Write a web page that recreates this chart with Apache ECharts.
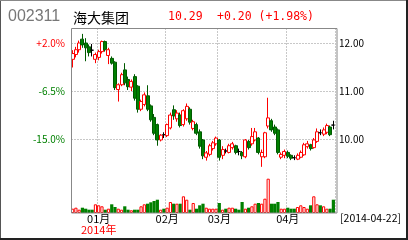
<!DOCTYPE html>
<html>
<head>
<meta charset="utf-8">
<script src="https://cdn.jsdelivr.net/npm/echarts@6/dist/echarts.min.js"></script>
<style>html,body{margin:0;padding:0;background:#fff}#c{width:408px;height:240px}</style>
</head>
<body>
<div id="c"></div>
<script>
const stockCode = '002311';
const stockName = '海大集团';
const lastPrice = '10.29';
const changeText = '+0.20 (+1.98%)';
const dateLabel = '[2014-04-22]';

const categories = [
 '2013-12-20','2013-12-23','2013-12-24','2013-12-25','2013-12-26','2013-12-27','2013-12-30','2013-12-31',
 '2014-01-02','2014-01-03','2014-01-06','2014-01-07','2014-01-08','2014-01-09','2014-01-10','2014-01-13','2014-01-14','2014-01-15','2014-01-16','2014-01-17','2014-01-20','2014-01-21','2014-01-22','2014-01-23','2014-01-24','2014-01-27','2014-01-28','2014-01-29','2014-01-30',
 '2014-02-07','2014-02-10','2014-02-11','2014-02-12','2014-02-13','2014-02-14','2014-02-17','2014-02-18','2014-02-19','2014-02-20','2014-02-21','2014-02-24','2014-02-25','2014-02-26','2014-02-27','2014-02-28',
 '2014-03-03','2014-03-04','2014-03-05','2014-03-06','2014-03-07','2014-03-10','2014-03-11','2014-03-12','2014-03-13','2014-03-14','2014-03-17','2014-03-18','2014-03-19','2014-03-20','2014-03-21','2014-03-24','2014-03-25','2014-03-26','2014-03-27','2014-03-28','2014-03-31',
 '2014-04-01','2014-04-02','2014-04-03','2014-04-04','2014-04-08','2014-04-09','2014-04-10','2014-04-11','2014-04-14','2014-04-15','2014-04-16','2014-04-17','2014-04-18','2014-04-21','2014-04-22'
];

const opens = [11.66,11.76,11.86,12.08,12.00,11.92,11.85,11.66,11.70,11.82,12.03,11.74,11.68,11.60,11.03,11.13,11.44,11.24,11.08,11.30,
 11.10,10.62,10.72,10.90,10.69,10.45,10.30,9.98,10.09,10.07,10.23,10.61,10.42,10.50,10.30,10.42,10.62,10.22,10.30,10.15,
 9.98,9.62,9.68,9.80,9.90,9.98,9.66,9.75,9.72,9.82,9.86,9.74,9.72,9.63,9.95,9.90,9.98,10.02,9.63,9.63,
 10.27,10.38,10.25,10.19,9.62,9.66,9.72,9.66,9.61,9.58,9.62,9.67,9.84,9.88,9.82,9.95,10.13,10.10,10.14,10.25,10.29];
const closes = [11.78,11.86,12.00,11.96,11.90,11.80,11.85,11.76,11.82,12.03,11.86,11.86,11.58,11.07,11.13,11.34,11.17,11.09,11.20,10.85,
 10.62,10.78,10.92,10.62,10.40,10.12,9.98,10.08,10.09,10.30,10.50,10.48,10.54,10.28,10.59,10.68,10.35,10.36,10.12,9.85,
 9.65,9.71,9.86,9.92,10.02,9.62,9.78,9.75,9.86,9.90,9.72,9.74,9.65,9.98,9.82,10.05,10.15,9.72,9.72,10.13,
 10.44,10.19,10.12,9.72,9.68,9.74,9.64,9.60,9.61,9.66,9.72,9.88,9.90,9.80,9.98,10.15,10.13,10.19,10.28,10.09,10.29];
const lows = [11.49,11.70,11.80,11.90,11.62,11.72,11.72,11.58,11.64,11.78,11.82,11.56,11.55,11.02,10.78,11.10,11.12,11.02,11.00,10.80,
 10.55,10.58,10.68,10.58,10.36,10.08,9.86,9.95,10.02,10.04,10.20,10.40,10.36,10.24,10.26,10.38,10.30,10.18,10.08,9.80,
 9.58,9.55,9.64,9.76,9.86,9.55,9.58,9.70,9.70,9.78,9.68,9.66,9.58,9.60,9.78,9.86,9.95,9.68,9.42,9.60,
 10.22,10.15,10.08,9.68,9.58,9.60,9.60,9.56,9.56,9.56,9.60,9.65,9.80,9.76,9.80,9.92,10.08,10.06,10.10,10.06,10.20];
const highs = [11.85,11.92,12.05,12.19,12.10,11.97,11.98,11.80,11.86,12.05,12.05,11.90,11.72,11.62,11.16,11.38,11.58,11.30,11.24,11.35,
 11.12,10.82,10.97,11.12,10.72,10.52,10.32,10.10,10.14,10.32,10.55,10.70,10.60,10.55,10.62,10.74,10.66,10.40,10.34,10.20,
 10.00,9.75,9.90,9.96,10.05,10.00,9.85,9.80,9.90,9.94,9.88,9.80,9.75,10.00,9.98,10.23,10.23,10.04,9.78,10.15,
 10.86,10.42,10.30,10.22,9.72,9.78,9.76,9.68,9.66,9.70,9.76,9.92,9.96,9.90,10.02,10.22,10.20,10.24,10.32,10.28,10.38];
const volumes = [4.3,5.3,3.3,5.3,4.3,3.3,3.3,8.7,7.7,6.7,3.3,4.3,8.7,6.0,4.3,3.3,6.7,3.3,2.7,3.3,
 3.3,6.7,8.7,9.3,10.7,12.0,13.3,3.3,4.3,5.3,11.0,9.3,9.3,9.3,16.7,13.3,3.3,10.0,4.3,7.7,
 9.3,5.3,4.3,4.3,4.3,10.0,3.3,4.3,5.3,5.3,4.3,3.3,11.0,4.3,5.3,6.7,9.3,10.0,9.3,14.3,
 34.3,9.3,9.3,11.0,4.3,4.3,5.3,4.3,4.3,6.0,7.7,6.0,4.3,7.7,16.7,8.7,7.7,6.7,4.3,4.3,13.3];

const priceTicks = [10, 11, 12];
const priceTickLabels = ['10.00', '11.00', '12.00'];
const pctTickLabels = ['-15.0%', '-6.5%', '+2.0%'];

const RED = '#ff0000', GREEN = '#008000', GREEN_DARK = '#005a00';
const CJK = '"Noto Sans CJK SC", sans-serif';

const candleData = categories.map((d, i) => [opens[i], closes[i], lows[i], highs[i]]);
const volData = categories.map((d, i) => {
  const up = closes[i] > opens[i];
  return { value: volumes[i], itemStyle: up ? { color: '#ffffff', borderColor: RED, borderWidth: 1 } : { color: GREEN, borderColor: GREEN, borderWidth: 0 } };
});
const monthStarts = [];
categories.forEach((d, i) => { if (i > 0 && d.slice(0, 7) !== categories[i - 1].slice(0, 7)) monthStarts.push(i); });

const chart = echarts.init(document.getElementById('c'), null, { renderer: 'canvas' });
const L = 71, R = 73;
chart.setOption({
  animation: false,
  grid: [
    { left: L, right: R, top: 28, bottom: 27 },
    { left: L, right: R, top: 43, height: 96 },
    { left: L, right: R, bottom: 27, height: 40 }
  ],
  xAxis: [
    { type: 'category', gridIndex: 0, data: categories, boundaryGap: true,
      axisLine: { show: false }, axisTick: { show: false },
      splitLine: { show: true, interval: (i) => monthStarts.indexOf(i) >= 0, lineStyle: { color: '#c8c8c8', type: [2, 1] } },
      axisLabel: { interval: (i) => monthStarts.indexOf(i) >= 0, margin: 0, fontSize: 11, color: '#000', fontFamily: CJK, lineHeight: 11,
        formatter: (v) => {
          const m = v.slice(5, 7) + '月';
          const idx = categories.indexOf(v);
          if (idx > 0 && v.slice(0, 4) !== categories[idx - 1].slice(0, 4)) return m + '\n{y|' + v.slice(0, 4) + '年}';
          return m;
        },
        rich: { y: { color: RED, fontSize: 11, fontFamily: CJK, lineHeight: 11 } } } },
    { type: 'category', gridIndex: 1, data: categories, boundaryGap: true, show: false },
    { type: 'category', gridIndex: 2, data: categories, boundaryGap: true, show: false }
  ],
  yAxis: [
    { type: 'value', gridIndex: 0, show: false, min: 0, max: 1, splitLine: { show: false } },
    { type: 'value', gridIndex: 1, position: 'right', min: 10, max: 12, interval: 1,
      axisLine: { show: false }, axisTick: { show: false },
      splitLine: { show: true, lineStyle: { color: '#c8c8c8', type: [2, 1] } },
      axisLabel: { margin: 4, fontSize: 10, color: '#000', fontFamily: CJK,
        formatter: (v) => { const k = priceTicks.indexOf(v); return k >= 0 ? priceTickLabels[k] : ''; } } },
    { type: 'value', gridIndex: 1, position: 'left', min: 10, max: 12, interval: 1,
      axisLine: { show: false }, axisTick: { show: false }, splitLine: { show: false },
      axisLabel: { margin: 6, fontSize: 10, fontFamily: CJK,
        color: (v) => { const k = priceTicks.indexOf(Number(v)); return (k >= 0 && pctTickLabels[k][0] === '+') ? RED : GREEN; },
        formatter: (v) => { const k = priceTicks.indexOf(v); return k >= 0 ? pctTickLabels[k] : ''; } } },
    { type: 'value', gridIndex: 2, show: false, min: 0, max: 40, splitLine: { show: false } }
  ],
  series: [
    { type: 'candlestick', xAxisIndex: 1, yAxisIndex: 1, data: candleData, clip: false, barWidth: 3.5,
      itemStyle: { color: '#ffffff', color0: GREEN, borderColor: RED, borderColor0: GREEN_DARK, borderColorDoji: '#000000', borderWidth: 1 } },
    { type: 'bar', xAxisIndex: 2, yAxisIndex: 3, data: volData, barWidth: 3.2 }
  ],
  graphic: [
    { type: 'rect', shape: { x: 71.5, y: 28.5, width: 265.5, height: 184.5 }, style: { fill: 'none', stroke: '#888', lineWidth: 1 }, silent: true, z: 10 },
    { type: 'line', shape: { x1: 0.5, y1: 0, x2: 0.5, y2: 240 }, style: { stroke: '#555', lineWidth: 1 } },
    { type: 'line', shape: { x1: 0, y1: 0.5, x2: 408, y2: 0.5 }, style: { stroke: '#888', lineWidth: 1 } },
    { type: 'line', shape: { x1: 407, y1: 0, x2: 407, y2: 240 }, style: { stroke: '#222', lineWidth: 2 } },
    { type: 'line', shape: { x1: 0, y1: 239, x2: 408, y2: 239 }, style: { stroke: '#222', lineWidth: 2 } },
    { type: 'text', x: 8, y: 17, style: { text: stockCode, fill: '#777', fontSize: 16, fontFamily: '"Liberation Sans", Arial, sans-serif', verticalAlign: 'middle' } },
    { type: 'text', x: 73, y: 17.5, style: { text: stockName, fill: '#000', fontSize: 14, fontFamily: CJK, verticalAlign: 'middle' } },
    { type: 'text', x: 168, y: 17.5, style: { text: lastPrice, fill: RED, fontSize: 11.5, fontFamily: '"DejaVu Sans Mono", monospace', verticalAlign: 'middle' } },
    { type: 'text', x: 217, y: 17.5, style: { text: changeText, fill: RED, fontSize: 11.5, fontFamily: '"DejaVu Sans Mono", monospace', verticalAlign: 'middle' } },
    { type: 'text', x: 340, y: 218.5, style: { text: dateLabel, fill: '#000', fontSize: 10.5, fontFamily: CJK, verticalAlign: 'middle' } }
  ]
});
</script>
</body>
</html>
